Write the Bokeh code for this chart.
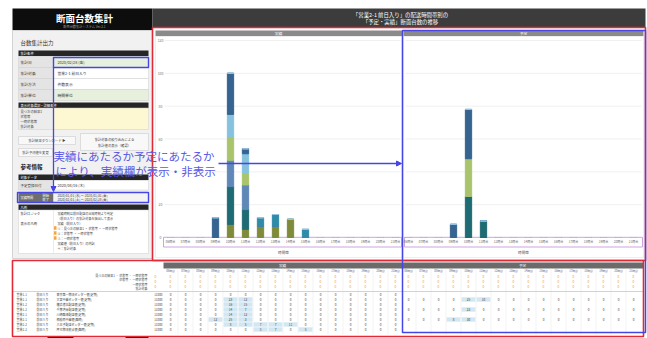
from bokeh.plotting import figure
from bokeh.models import Range1d, ColumnDataSource, Arrow, NormalHead
from bokeh.core.properties import value
from bokeh.embed import file_html
from bokeh.resources import INLINE

W, H = 647, 338
FONT = "Noto Sans CJK JP"
RED = "#e22a36"
BLUE = "#4646e6"

# ---------------- data ----------------
slots = ["06時台", "07時台", "08時台", "09時台", "10時台", "11時台", "12時台", "13時台",
         "14時台", "15時台", "16時台", "17時台", "18時台", "19時台", "20時台", "21時台"]
count_ticks = [0, 20, 40, 60, 80, 100, 120]

route_codes = ["営業1-1", "営業1-1", "営業1-2", "営業1-2", "営業2-1", "営業2-1", "営業2-2", "営業2-2"]
route_kind = ["前日入り", "前日入り", "前日入り", "前日入り", "前日入り", "前日入り", "前日入り", "前日入り"]
route_names = ["東京第一物流センター便(定期)", "大宮中継センター便(定期)", "横浜港北配送便(定期)",
               "千葉湾岸配送便(定期)", "川崎臨海配送便(定期)", "相模原中継便(臨時)",
               "八王子配送センター便(定期)", "厚木物流拠点便(臨時)"]
route_totals = ["11000", "11000", "11000", "11000", "11000", "11000", "11000", "11000"]
route_colors = ["#9dc3e6", "#1f6b73", "#5f88b8", "#a9c46c", "#86c2de", "#36638f", "#7f8b3a", "#2f8ca8"]

# actual counts (実績) per route and time slot
actual_r0 = [0, 0, 0, 0, 0, 0, 0, 0, 0, 0, 0, 0, 0, 0, 0, 0]
actual_r1 = [0, 0, 0, 0, 23, 12, 0, 0, 0, 0, 0, 0, 0, 0, 0, 0]
actual_r2 = [0, 0, 0, 0, 16, 15, 0, 0, 0, 0, 0, 0, 0, 0, 0, 0]
actual_r3 = [0, 0, 0, 0, 14, 7, 0, 0, 0, 0, 0, 0, 0, 0, 0, 0]
actual_r4 = [0, 0, 0, 0, 14, 12, 0, 0, 0, 0, 0, 0, 0, 0, 0, 0]
actual_r5 = [0, 0, 0, 12, 25, 3, 0, 0, 0, 0, 0, 0, 0, 0, 0, 0]
actual_r6 = [0, 0, 0, 0, 8, 5, 7, 7, 11, 0, 0, 0, 0, 0, 0, 0]
actual_r7 = [0, 0, 0, 0, 0, 0, 5, 7, 0, 5, 0, 0, 0, 0, 0, 0]

# planned counts (予定) per route and time slot
plan_r0 = [0, 0, 0, 0, 0, 0, 0, 0, 0, 0, 0, 0, 0, 0, 0, 0]
plan_r1 = [0, 0, 0, 0, 25, 10, 0, 0, 0, 0, 0, 0, 0, 0, 0, 0]
plan_r2 = [0, 0, 0, 0, 0, 0, 0, 0, 0, 0, 0, 0, 0, 0, 0, 0]
plan_r3 = [0, 0, 0, 0, 23, 0, 0, 0, 0, 0, 0, 0, 0, 0, 0, 0]
plan_r4 = [0, 0, 0, 0, 0, 0, 0, 0, 0, 0, 0, 0, 0, 0, 0, 0]
plan_r5 = [0, 0, 0, 8, 30, 0, 0, 0, 0, 0, 0, 0, 0, 0, 0, 0]
plan_r6 = [0, 0, 0, 0, 0, 0, 0, 0, 0, 0, 0, 0, 0, 0, 0, 0]
plan_r7 = [0, 0, 0, 0, 0, 0, 0, 0, 0, 0, 0, 0, 0, 0, 0, 0]

actual_rows = [actual_r0, actual_r1, actual_r2, actual_r3, actual_r4, actual_r5, actual_r6, actual_r7]
plan_rows = [plan_r0, plan_r1, plan_r2, plan_r3, plan_r4, plan_r5, plan_r6, plan_r7]
stack_order = [6, 1, 2, 3, 4, 5, 7, 0]   # bottom to top

# ---------------- canvas ----------------
p = figure(width=W, height=H, x_range=Range1d(0, W), y_range=Range1d(H, 0),
           output_backend="svg", toolbar_location=None, min_border=0,
           x_axis_type=None, y_axis_type=None)
p.outline_line_color = None
p.background_fill_color = "white"
p.border_fill_color = "white"


def lin_range(v0, f0, v1, f1):
    span = (v1 - v0) / (f1 - f0)
    start = v0 - f0 * span
    return Range1d(start=start, end=start + span)


# time-slot axes of the two chart panels, count axis shared by both
p.extra_x_ranges = {
    "act": lin_range(0, 170 / W, 15, 395 / W),
    "pln": lin_range(0, 408 / W, 15, 633 / W),
}
p.extra_y_ranges = {"cnt": lin_range(0, (H - 237) / H, 120, (H - 40) / H)}


def box(x0, y0, x1, y1, fill=None, line=None, lw=1):
    p.quad(left=[x0], right=[x1], top=[y0], bottom=[y1],
           fill_color=fill, line_color=line, line_width=lw)


def txt(xs, ys, texts, size, color, align="left", baseline="middle", bold=False, **kw):
    src = ColumnDataSource(dict(x=list(xs), y=list(ys), t=list(texts)))
    p.text("x", "y", text="t", source=src, text_font=value(FONT),
           text_font_size=f"{size}px", text_color=color, text_align=align,
           text_baseline=baseline, text_font_style="bold" if bold else "normal", **kw)


# ---------------- left control panel ----------------
box(12, 8, 152, 30, fill="#0d0d0d")
txt([84], [17.5], ["断面台数集計"], 9.5, "white", align="center", bold=True)
txt([84], [25.5], ["断面台数集計システム Ver.2.1"], 3.2, "#9a9a9a", align="center")

box(12, 30, 152, 258, fill="#f1f1f1", line="#d4d4d4")
txt([20], [42], ["台数集計出力"], 5.5, "#333333")


def section(y0, label):
    box(18, y0, 148, y0 + 5.5, fill="#262626")
    txt([20], [y0 + 2.8], [label], 3.3, "white")


section(50, "集計条件")
cond_labels = ["集計日", "集計対象", "集計方法", "集計単位"]
cond_values = ["2020/02/28 (金)", "営業2-1 前日入り", "件数表示", "時間単位"]
cond_fill = ["#e7f0dc", "#ffffff", "#ffffff", "#e7f0dc"]
for i, (lab, val) in enumerate(zip(cond_labels, cond_values)):
    y0 = 56 + 11 * i
    box(18, y0, 53, y0 + 11, fill="#e4e4e4", line="#cfcfcf", lw=0.5)
    box(53, y0, 148, y0 + 11, fill=cond_fill[i], line="#cfcfcf", lw=0.5)
    txt([20], [y0 + 5.5], [lab], 3.8, "#333333")
    txt([57], [y0 + 5.5], [val], 3.8, "#333333")

section(102, "表示対象選択・詳細条件")
box(18, 107.5, 53, 129, fill="#ececec", line="#cfcfcf", lw=0.5)
box(53, 107.5, 148, 129, fill="#fdf8d2", line="#cfcfcf", lw=0.5)
txt([20, 20, 20, 20], [110.5, 115.5, 120.5, 125.5],
    ["見つ次の結果1", "状態等", "一時状態等", "集計対象"], 3.3, "#444444")

box(18, 136, 75, 144, fill="#f8f8f8", line="#c4c4c4", lw=0.5)
box(18, 148, 52, 156, fill="#f8f8f8", line="#c4c4c4", lw=0.5)
box(80, 133, 148, 150, fill="#f8f8f8", line="#c4c4c4", lw=0.5)
txt([46.5], [140], ["集計結果ダウンロード ▶"], 3.3, "#444444", align="center")
txt([35], [152], ["集計予測値を変更"], 3.3, "#444444", align="center")
txt([114, 114], [138.5, 144.5], ["集計対象の絞り込みによる", "集計値の表示（確認）"], 3.3, "#444444", align="center")

txt([20], [166], ["参考情報"], 5.5, "#222222", bold=True)
section(174, "対象データ")
box(18, 180, 53, 189.5, fill="#e4e4e4", line="#cfcfcf", lw=0.5)
box(53, 180, 148, 189.5, fill="#ffffff", line="#cfcfcf", lw=0.5)
txt([20], [184.8], ["予定登録日付"], 3.5, "#333333")
txt([57], [184.8], ["2020/04/16 (木)"], 3.8, "#333333")
box(18, 192.5, 53, 201.5, fill="#6e6e6e")
box(53, 192.5, 148, 201.5, fill="#f3f3f3")
txt([20, 42, 42], [197, 195, 199.3], ["実績期間", "開始", "終了"], 3.2, "white")
txt([57, 57], [195, 199.3], ["2020/01/01 (水) ～ 2020/01/31 (金)", "2020/02/01 (土) ～ 2020/02/28 (金)"],
    3.2, "#333333")

section(204, "凡例")
box(18, 209.5, 148, 253, fill="#ffffff", line="#cfcfcf", lw=0.5)
p.segment(x0=[53], x1=[53], y0=[209.5], y1=[253], line_color="#d8d8d8", line_width=0.5)
txt([20, 20], [213, 223], ["集計ロジック", "表示の凡例"], 3.3, "#333333")
legend_lines = ["実績時刻は前日配送の出発時刻より判定", "（前日入り）の集計対象を抽出して表示",
                "実績（前日入り）", "①：見つ次の結果1 ・ 状態等 ・ 一時状態等", "②：状態等 ・ 一時状態等",
                "③：一時状態等", "実績値（前日入り）の内訳", "④：集計対象"]
txt([57] * 8, [213, 217.5, 222.5, 227.5, 232.5, 237.5, 242.5, 247.5], legend_lines, 3.1, "#444444")
for yy in [227.5, 232.5, 237.5]:
    box(53.5, yy - 1.8, 56, yy + 1.8, fill="#f3a640")

# ---------------- chart area ----------------
box(152, 8, 645, 27, fill="#3c3c3c")
txt([400, 400], [14, 21.5], ["「営業2-1 前日入り」の配送時間帯別の", "「予定・実績」断面台数の推移"],
    5.4, "white", align="center")
box(152, 27, 645, 260, fill="white")
box(155, 30, 401.5, 35.5, fill="#8a8a8a")
box(403, 30, 643, 35.5, fill="#8a8a8a")
txt([278, 523], [32.8, 32.8], ["実績", "予定"], 3.8, "white", align="center")
box(155, 36, 401.5, 257, line="#e3e3e3", lw=0.6)
box(403, 36, 643, 257, line="#e3e3e3", lw=0.6)

n = len(count_ticks)
p.segment(x0=[164] * n, x1=[400] * n, y0=count_ticks, y1=count_ticks,
          y_range_name="cnt", line_color="#e9e9e9", line_width=0.7)
p.segment(x0=[405] * n, x1=[641] * n, y0=count_ticks, y1=count_ticks,
          y_range_name="cnt", line_color="#e9e9e9", line_width=0.7)
txt([160] * n, count_ticks, [str(t) for t in count_ticks], 3.4, "#777777",
    align="center", y_range_name="cnt")

box(163, 236.8, 401, 246.5, fill="white", line="#c79bd8", lw=0.9)
box(404, 236.8, 642, 246.5, fill="white", line="#c79bd8", lw=0.9)
idx = list(range(len(slots)))
txt(idx, [241.6] * len(slots), slots, 3.0, "#666666", align="center", x_range_name="act")
txt(idx, [241.6] * len(slots), slots, 3.0, "#666666", align="center", x_range_name="pln")
txt([283, 523], [252, 252], ["時間帯", "時間帯"], 3.6, "#555555", align="center")

stackers = [f"r{k}" for k in stack_order]
colors = [route_colors[k] for k in stack_order]
act_src = ColumnDataSource(dict(x=idx, **{f"r{k}": actual_rows[k] for k in range(8)}))
pln_src = ColumnDataSource(dict(x=idx, **{f"r{k}": plan_rows[k] for k in range(8)}))
p.vbar_stack(stackers, x="x", width=0.42, color=colors, source=act_src,
             x_range_name="act", y_range_name="cnt")
p.vbar_stack(stackers, x="x", width=0.42, color=colors, source=pln_src,
             x_range_name="pln", y_range_name="cnt")

# ---------------- bottom table ----------------
box(163, 262, 643, 268, fill="#6b6b6b")
txt([282, 522], [265, 265], ["実績", "予定"], 3.6, "white", align="center")
for rn in ["act", "pln"]:
    xs = [i + 0.5 for i in idx[:-1]]
    p.segment(x0=xs, x1=xs, y0=[268] * len(xs), y1=[334] * len(xs),
              x_range_name=rn, line_color="#e4e4e4", line_width=0.5)
    txt(idx, [270.6] * len(idx), slots, 2.8, "#5a6a8c", align="center", x_range_name=rn)
    for yy in [276, 281, 286]:
        txt(idx, [yy] * len(idx), ["0"] * len(idx), 3.3, "#f09a3a", align="center", x_range_name=rn)

txt([147] * 4, [275, 279.5, 284, 288.5],
    ["見つ次の結果1 ・ 状態等 ・ 一時状態等", "状態等 ・ 一時状態等", "一時状態等", "集計対象"],
    3.0, "#444444", align="right")
txt([155] * 3, [276, 281, 286], ["0", "0", "0"], 3.3, "#f09a3a", align="center")
p.segment(x0=[12], x1=[643], y0=[291], y1=[291], line_color="#c8c8c8", line_width=0.8)

row_y = [294 + 5 * i for i in range(len(route_codes))]
txt([16] * 8, row_y, route_codes, 3.0, "#444444")
txt([36] * 8, row_y, route_kind, 3.0, "#444444")
txt([56] * 8, row_y, route_names, 3.0, "#444444")
txt([162] * 8, row_y, route_totals, 3.0, "#444444", align="right")

for rn, rows, show_all in [("act", actual_rows, True), ("pln", plan_rows, False)]:
    for r, vals in enumerate(rows):
        if not show_all and not any(vals):
            continue
        hx = [i for i, v in enumerate(vals) if v]
        if hx:
            p.rect(x=hx, y=[row_y[r]] * len(hx), width=0.92, height=4.4,
                   x_range_name=rn, fill_color="#d3e7f3", line_color=None)
        txt(idx, [row_y[r]] * len(idx), [str(v) for v in vals], 3.1, "#444444",
            align="center", x_range_name=rn)

box(47, 335.5, 73, 338, fill="#151515")
box(125, 335.5, 148, 338, fill="#151515")

# ---------------- annotation overlay ----------------
box(152, 27, 645, 260, line=RED, lw=1.6)
box(12, 260, 643, 336, line=RED, lw=1.6)
box(402, 30, 645, 332, line=BLUE, lw=1.5)
box(53, 57, 148, 67, line=BLUE, lw=1.4)
box(17, 192, 148, 202, line=BLUE, lw=1.4)

p.add_layout(Arrow(end=NormalHead(size=5, fill_color=BLUE, line_color=BLUE),
                   x_start=53, y_start=67, x_end=53, y_end=191,
                   line_color=BLUE, line_width=1.3))
p.add_layout(Arrow(end=NormalHead(size=5, fill_color=BLUE, line_color=BLUE),
                   x_start=218, y_start=163, x_end=401, y_end=163,
                   line_color=BLUE, line_width=1.3))
txt([53, 55], [155.5, 170], ["実績にあたるか予定にあたるか", "により、実績欄が表示・非表示"],
    11.5, "#5a5ae4")

open("out.html", "w").write(file_html(p, INLINE))
